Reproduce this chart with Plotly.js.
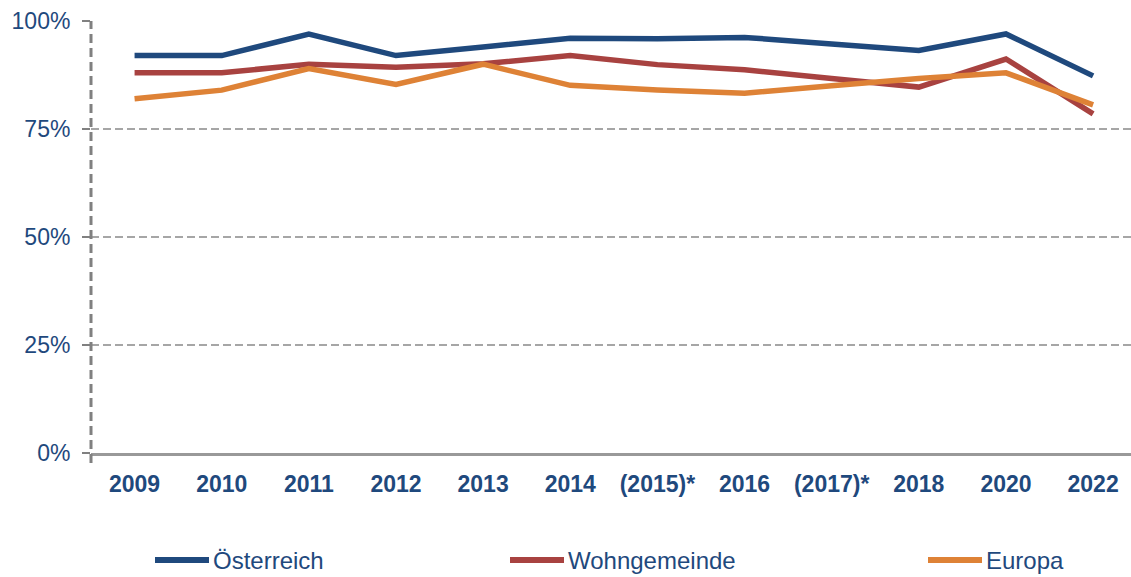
<!DOCTYPE html>
<html>
<head>
<meta charset="utf-8">
<script src="https://cdn.plot.ly/plotly-3.0.1.min.js"></script>
<style>html,body{margin:0;padding:0;background:#fff;}#chart{width:1131px;height:577px;}</style>
</head>
<body>
<div id="chart"></div>
<script>
var categories = ["2009","2010","2011","2012","2013","2014","(2015)*","2016","(2017)*","2018","2020","2022"];
var oesterreich = [92, 92, 97, 92, 94, 96, 95.9, 96.2, 94.7, 93.2, 97, 87.3];
var wohngemeinde = [88, 88, 90, 89.3, 90.1, 92, 89.9, 88.7, 86.7, 84.7, 91.2, 78.5];
var europa = [82, 84, 89, 85.3, 90, 85.1, 84, 83.3, 85, 86.7, 88, 80.6];
var seriesNames = ["Österreich", "Wohngemeinde", "Europa"];
var yTickVals = [0, 25, 50, 75, 100];
var yTickText = ["0%", "25%", "50%", "75%", "100%"];

var colors = ["#1F497D", "#A84240", "#DE8236"];
var textColor = "#1F497D";
var font = "Liberation Sans, Arial, sans-serif";
var seriesValues = [oesterreich, wohngemeinde, europa];

var traces = seriesValues.map(function (vals, i) {
  return {
    type: "scatter", mode: "lines", name: seriesNames[i],
    x: categories, y: vals,
    line: {color: colors[i], width: 5.5},
    showlegend: false, hoverinfo: "x+y+name"
  };
});

var W = 1131, H = 577, mL = 91, mR = 0, mT = 21, mB = 124;
var pw = W - mL - mR, ph = H - mT - mB;
function px2x(p) { return (p - mL) / pw; }
function py2y(p) { return (H - mB - p) / ph; }

// custom legend (line symbols + labels)
var legendStart = [155, 510, 928];
var legendLen = 54;
var legendY = 560;
var shapes = [
  {type: "line", xref: "paper", yref: "paper", x0: 0, x1: 0, y0: py2y(463), y1: 1,
   line: {color: "#808080", width: 3, dash: "9px,5px"}}
];
var annotations = [];
seriesNames.forEach(function (n, i) {
  shapes.push({type: "line", xref: "paper", yref: "paper",
    x0: px2x(legendStart[i]), x1: px2x(legendStart[i] + legendLen),
    y0: py2y(legendY), y1: py2y(legendY),
    line: {color: colors[i], width: 6}});
  annotations.push({xref: "paper", yref: "paper", x: px2x(legendStart[i] + legendLen + 2),
    y: py2y(legendY), xanchor: "left", yanchor: "middle", showarrow: false,
    text: n, font: {family: font, size: 24, color: textColor}});
});

var layout = {
  width: W, height: H,
  margin: {l: mL, r: mR, t: mT, b: mB, pad: 0},
  paper_bgcolor: "#fff", plot_bgcolor: "#fff",
  font: {family: font, color: textColor},
  xaxis: {
    type: "category", range: [-0.5, 11.435],
    showgrid: false, zeroline: false,
    showline: true, linecolor: "#999999", linewidth: 3,
    ticks: "", tickfont: {family: font, size: 23, color: textColor, weight: "bold"},
    ticklabelstandoff: 8, fixedrange: true
  },
  yaxis: {
    range: [0, 100], tickvals: yTickVals, ticktext: yTickText,
    showgrid: true, gridcolor: "#A6A6A6", gridwidth: 2, griddash: "8px,4px",
    zeroline: false, showline: false,
    ticks: "outside", ticklen: 8, tickwidth: 2, tickcolor: "#808080",
    tickfont: {family: font, size: 23, color: textColor},
    ticklabelstandoff: 7, fixedrange: true
  },
  shapes: shapes,
  annotations: annotations,
  showlegend: false
};

Plotly.newPlot("chart", traces, layout, {displayModeBar: false, staticPlot: true});
</script>
</body>
</html>
